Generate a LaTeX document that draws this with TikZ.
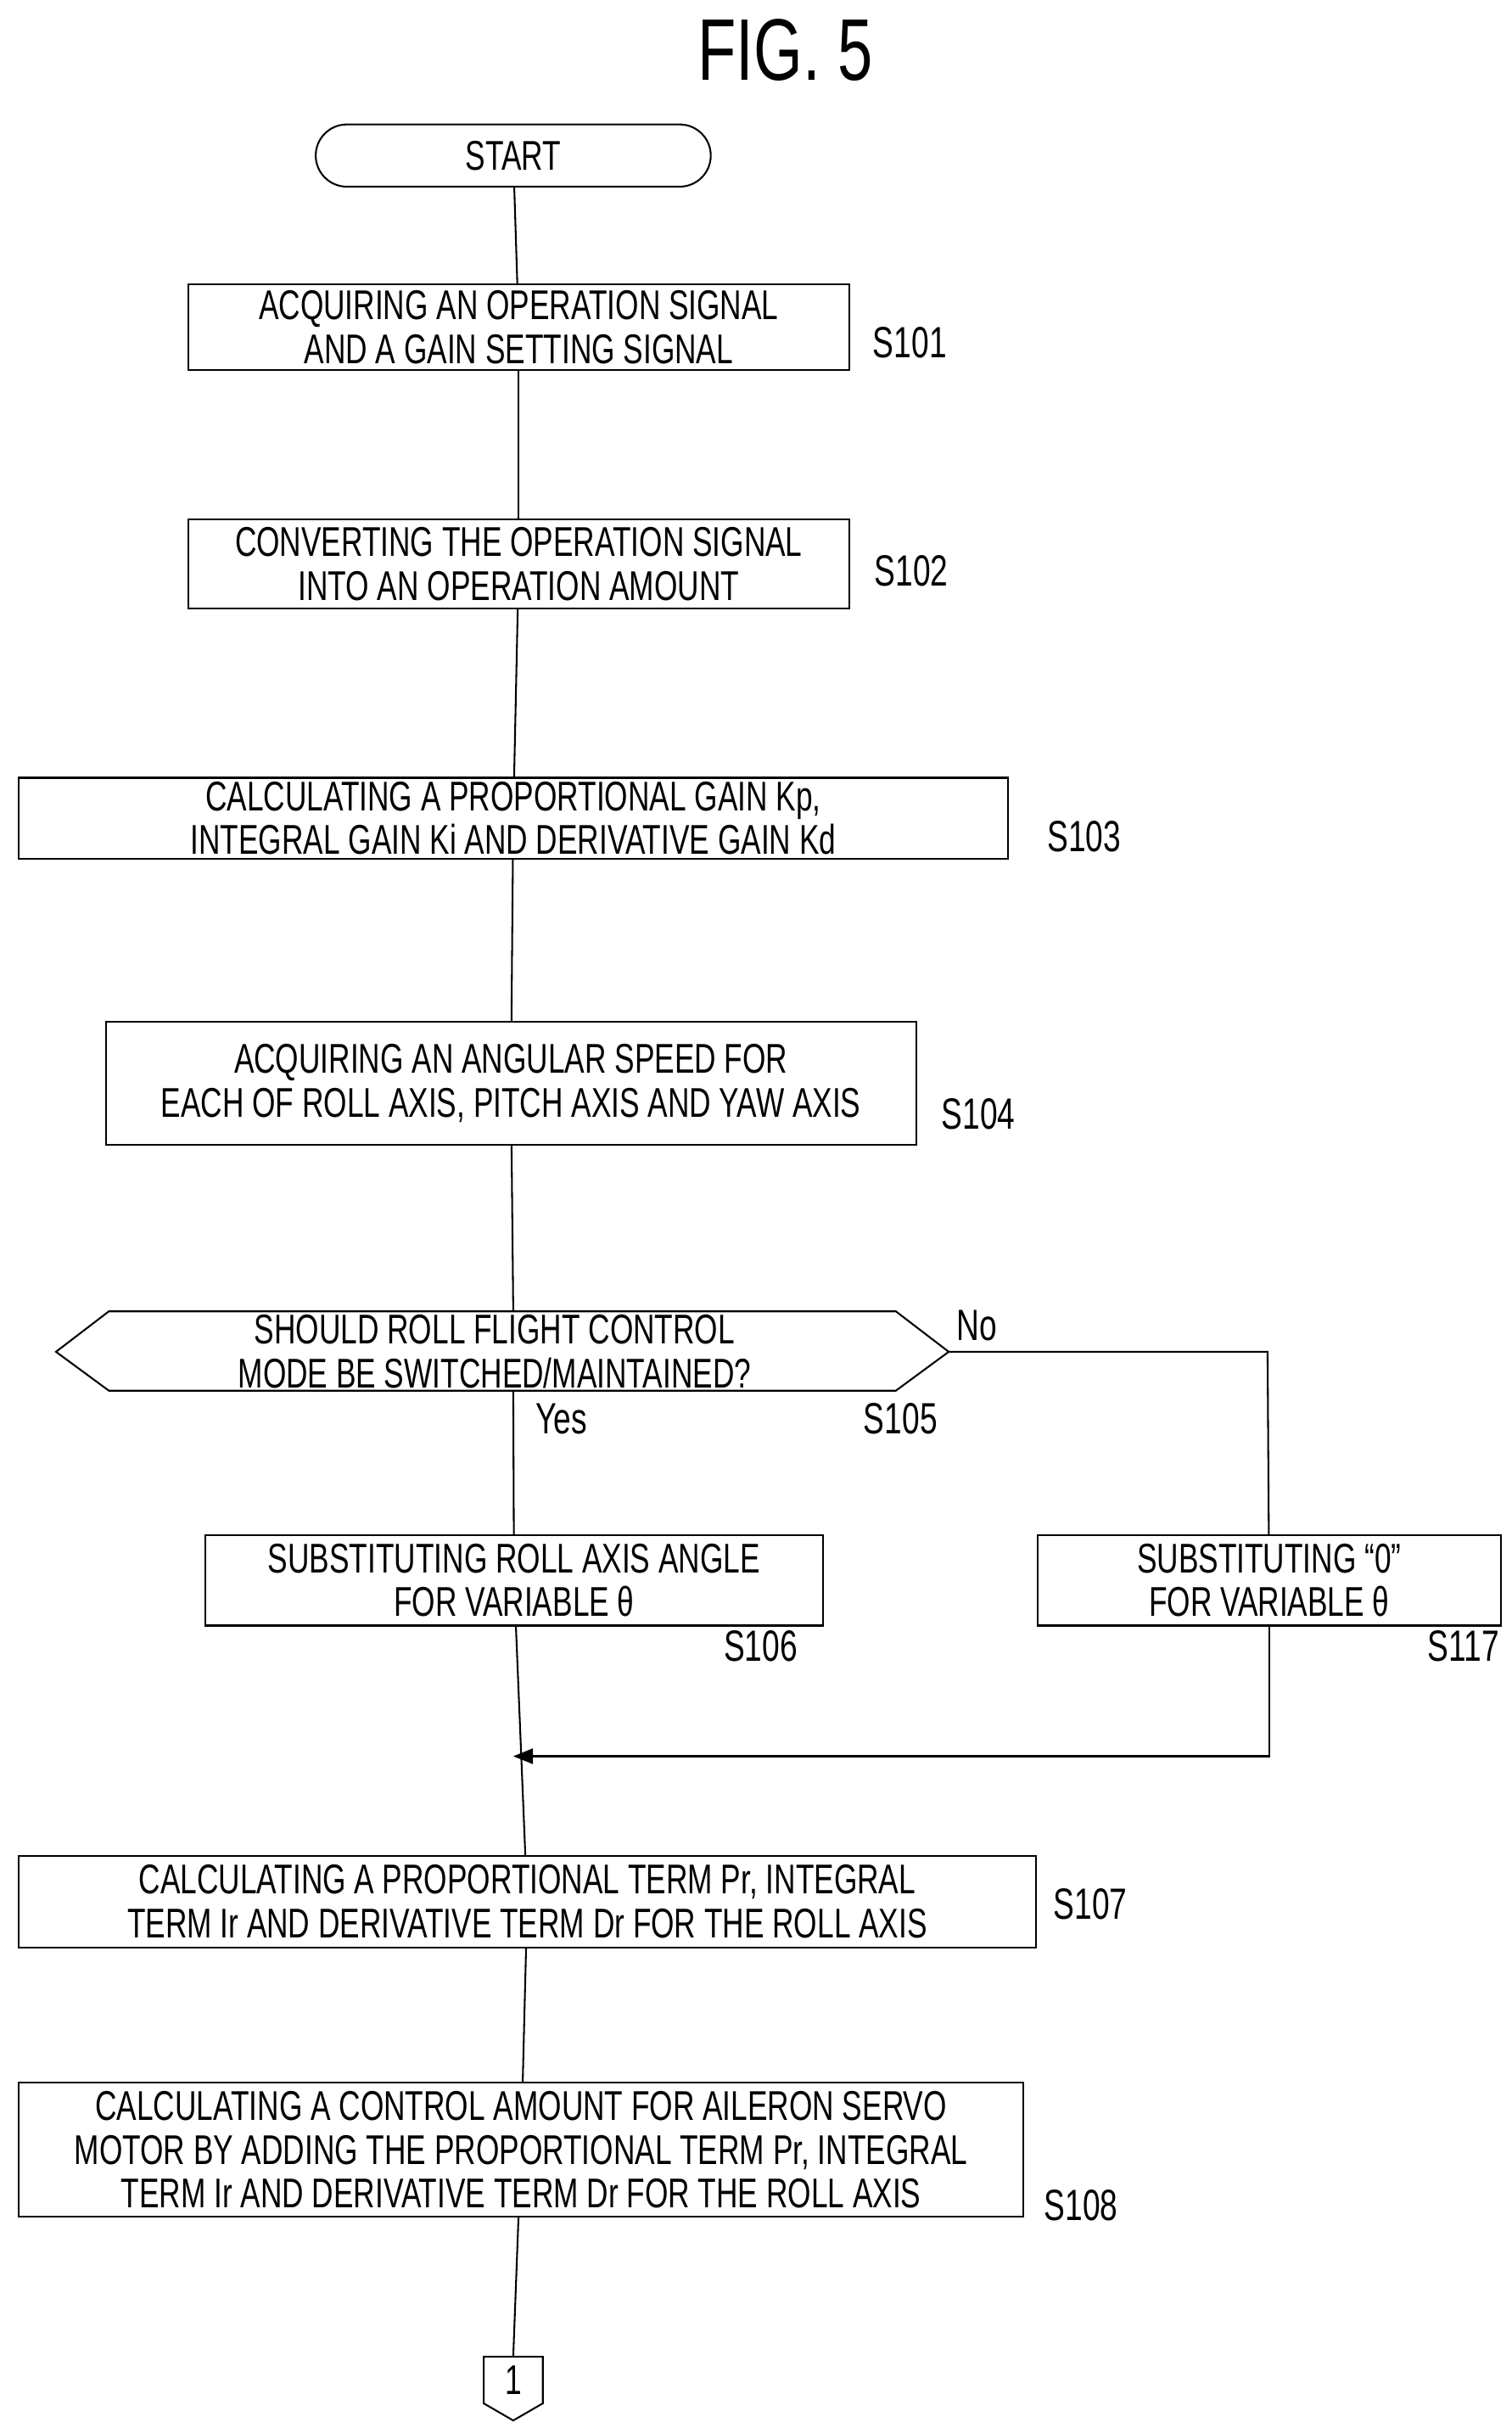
\documentclass[tikz,border=0pt]{standalone}
\usepackage{fontspec}
\setmainfont{Liberation Sans}[FakeStretch=0.72]
\usetikzlibrary{arrows.meta,shapes.misc}
\tikzset{
  stepbox/.style={draw, line width=1.6pt, align=center, font=\fontsize{38}{40}\selectfont, inner sep=0pt},
  tag/.style={font=\fontsize{40}{42}\selectfont},
  flow/.style={line width=1.6pt}
}
\begin{document}
\begin{tikzpicture}[x=0.05cm,y=-0.05cm]
  \useasboundingbox (0,0) rectangle (972,1557);
  \node (title) at (505,32) {\fontsize{80}{80}\selectfont FIG. 5};
  \node [stepbox, rounded rectangle, minimum width=254*0.05cm, minimum height=40*0.05cm] (start) at (330,100) {START};
  \node [stepbox, minimum width=425*0.05cm, minimum height=55*0.05cm] (s101) at (333.5,210.5) {ACQUIRING AN OPERATION SIGNAL\\AND A GAIN SETTING SIGNAL};
  \node [tag] at (585,220) {S101};
  \node [stepbox, minimum width=425*0.05cm, minimum height=57*0.05cm] (s102) at (333.5,362.5) {CONVERTING THE OPERATION SIGNAL\\INTO AN OPERATION AMOUNT};
  \node [tag] at (586,367) {S102};
  \node [stepbox, minimum width=636*0.05cm, minimum height=52*0.05cm] (s103) at (330,526) {CALCULATING A PROPORTIONAL GAIN Kp,\\INTEGRAL GAIN Ki AND DERIVATIVE GAIN Kd};
  \node [tag] at (697,538) {S103};
  \node [stepbox, minimum width=521*0.05cm, minimum height=79*0.05cm] (s104) at (328.5,696.5) {ACQUIRING AN ANGULAR SPEED FOR\\EACH OF ROLL AXIS, PITCH AXIS AND YAW AXIS};
  \node [tag] at (629,716) {S104};
  % decision
  \draw [flow] (36,869) -- (70,843) -- (576,843) -- (610,869) -- (576,894) -- (70,894) -- cycle;
  \node [align=center, font=\fontsize{38}{40}\selectfont] (s105) at (318,869) {SHOULD ROLL FLIGHT CONTROL\\MODE BE SWITCHED/MAINTAINED?};
  \coordinate (dtop) at (330,843);
  \coordinate (dbot) at (330,894);
  \coordinate (dright) at (610,869);
  \coordinate (nocorner) at (815,869);
  \node [tag] at (628,852) {No};
  \node [tag] at (361,912) {Yes};
  \node [tag] at (579,912) {S105};
  \node [stepbox, minimum width=397*0.05cm, minimum height=58*0.05cm] (s106) at (330.5,1016) {SUBSTITUTING ROLL AXIS ANGLE\\FOR VARIABLE θ};
  \node [tag] at (489,1058) {S106};
  \node [stepbox, minimum width=298*0.05cm, minimum height=58*0.05cm] (s117) at (816,1016) {SUBSTITUTING “0”\\FOR VARIABLE θ};
  \node [tag] at (941,1058) {S117};
  \coordinate (merge) at (330,1129);
  \node [stepbox, minimum width=654*0.05cm, minimum height=59*0.05cm] (s107) at (339,1222.5) {CALCULATING A PROPORTIONAL TERM Pr, INTEGRAL\\TERM Ir AND DERIVATIVE TERM Dr FOR THE ROLL AXIS};
  \node [tag] at (701,1224) {S107};
  \node [stepbox, minimum width=646*0.05cm, minimum height=86*0.05cm] (s108) at (335,1382) {CALCULATING A CONTROL AMOUNT FOR AILERON SERVO\\MOTOR BY ADDING THE PROPORTIONAL TERM Pr, INTEGRAL\\TERM Ir AND DERIVATIVE TERM Dr FOR THE ROLL AXIS};
  \node [tag] at (695,1418) {S108};
  % off-page connector
  \draw [flow] (311,1515) -- (349,1515) -- (349,1545) -- (330,1556) -- (311,1545) -- cycle;
  \node [font=\fontsize{38}{40}\selectfont] (conn) at (330,1530) {1};
  \coordinate (conntop) at (330,1515);
  % connectors
  \draw [flow] (start) -- (s101);
  \draw [flow] (s101) -- (s102);
  \draw [flow] (s102) -- (s103);
  \draw [flow] (s103) -- (s104);
  \draw [flow] (s104) -- (dtop);
  \draw [flow] (dbot) -- (s106);
  \draw [flow] (s106) -- (s107);
  \draw [flow] (s107) -- (s108);
  \draw [flow] (s108) -- (conntop);
  \draw [flow] (dright) -- (nocorner) -- (s117);
  \draw [flow, -{Triangle[length=18pt,width=14pt]}] (s117) |- (merge);
\end{tikzpicture}
\end{document}
